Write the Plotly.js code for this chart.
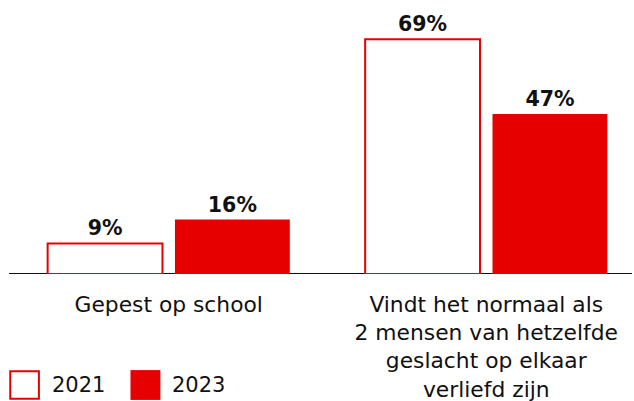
<!DOCTYPE html>
<html>
<head>
<meta charset="utf-8">
<script src="https://cdn.plot.ly/plotly-3.0.1.min.js"></script>
<style>
  body { margin: 0; background: #fff; }
  #chart { width: 634px; height: 401px; }
</style>
</head>
<body>
<div id="chart"></div>
<script>
var categories = ['Gepest op school', 'Vindt het normaal als<br>2 mensen van hetzelfde<br>geslacht op elkaar<br>verliefd zijn'];
var values2021 = [9, 69];
var values2023 = [16, 47];
var seriesNames = ['2021', '2023'];

var red = '#e60000';
var fontFam = '"DejaVu Sans", sans-serif';

function pct(arr) {
    return arr.map(function(v) { return '<b>' + v + '%</b>'; });
}

var data = [
    {
        type: 'bar',
        name: seriesNames[0],
        x: categories,
        y: values2021,
        text: pct(values2021),
        textposition: 'outside',
        textfont: { size: 20.5, color: '#111111' },
        cliponaxis: false,
        hoverinfo: 'none',
        marker: { color: '#ffffff', line: { color: red, width: 2 } }
    },
    {
        type: 'bar',
        name: seriesNames[1],
        x: categories,
        y: values2023,
        text: pct(values2023),
        textposition: 'outside',
        textfont: { size: 20.5, color: '#111111' },
        cliponaxis: false,
        hoverinfo: 'none',
        marker: { color: red, line: { width: 0 } }
    }
];

var layout = {
    width: 634,
    height: 401,
    margin: { l: 9, r: 2, t: 10, b: 127 },
    paper_bgcolor: '#ffffff',
    plot_bgcolor: '#ffffff',
    showlegend: false,
    barmode: 'group',
    bargap: 0.198,
    bargroupgap: 0.098,
    font: { family: fontFam, size: 20, color: '#111111' },
    xaxis: {
        type: 'category',
        range: [-0.503, 1.459],
        showline: false,
        showgrid: false,
        zeroline: false,
        ticks: '',
        ticklabelstandoff: 15,
        tickfont: { size: 21.8, color: '#111111' },
        fixedrange: true
    },
    yaxis: {
        range: [0, 77.6],
        visible: false,
        fixedrange: true
    },
    uniformtext: { mode: false },
    shapes: [
        // baseline
        { type: 'line', xref: 'paper', yref: 'y', x0: 0, x1: 1, y0: 0, y1: 0,
          layer: 'below', line: { color: '#111111', width: 2 } },
        // legend swatches
        { type: 'rect', xref: 'paper', yref: 'paper', x0: 0.002, x1: 0.048, y0: -0.473, y1: -0.368,
          line: { color: red, width: 2 }, fillcolor: '#ffffff' },
        { type: 'rect', xref: 'paper', yref: 'paper', x0: 0.195, x1: 0.243, y0: -0.477, y1: -0.364,
          line: { width: 0 }, fillcolor: red }
    ],
    annotations: [
        { xref: 'paper', yref: 'paper', x: 0.066, y: -0.42, xanchor: 'left', yanchor: 'middle',
          text: seriesNames[0], showarrow: false, font: { size: 21, color: '#111111' } },
        { xref: 'paper', yref: 'paper', x: 0.259, y: -0.42, xanchor: 'left', yanchor: 'middle',
          text: seriesNames[1], showarrow: false, font: { size: 21, color: '#111111' } }
    ]
};

Plotly.newPlot('chart', data, layout, { displayModeBar: false, staticPlot: true });
</script>
</body>
</html>
